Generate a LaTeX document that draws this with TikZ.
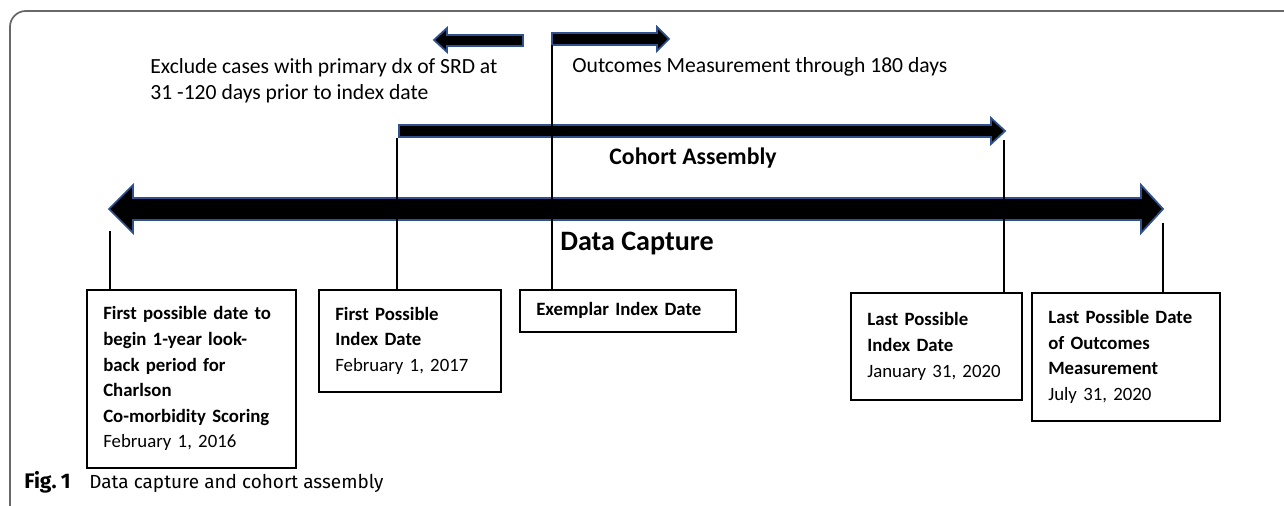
\documentclass[tikz,border=0pt]{standalone}
\usepackage{fontspec}
\setmainfont{Carlito}
\newfontfamily\capfont{Fira Sans}

\definecolor{arrowblue}{RGB}{47,82,143}
\definecolor{framegray}{RGB}{105,105,105}

\tikzset{
	bigarrow/.style = {fill = black, draw = arrowblue, line width = 1pt, line join = miter},
	guide/.style = {line width = 0.6pt},
	datebox/.style = {draw, line width = 0.9pt, anchor = north west, align = left, inner xsep = 0.33cm, inner ysep = 0pt, font = \fontsize{10.7}{14.6}\selectfont},
	note/.style = {inner sep = 0pt, align = left, font = \fontsize{12.3}{14.6}\selectfont}
}

\begin{document}
\begin{tikzpicture}[x = 0.02cm, y = -0.02cm]

	% Page (pixel grid of the reference)
	
	\useasboundingbox (0, 0) rectangle (1284, 506);
	\draw [framegray, line width = 1pt, rounded corners = 9pt] (10, 506) -- (10, 11) -- (1284, 11);
	
	% Arrows
	
	\draw [bigarrow] (109, 209) -- (133, 185) -- (133, 198) -- (1141, 198) -- (1141, 185) -- (1163, 209) -- (1141, 233) -- (1141, 220) -- (133, 220) -- (133, 233) -- cycle;
	\draw [bigarrow] (399, 125) -- (991, 125) -- (991, 118) -- (1005, 131) -- (991, 144) -- (991, 137) -- (399, 137) -- cycle;
	\draw [bigarrow] (434, 40) -- (447, 28) -- (447, 35) -- (523, 35) -- (523, 46) -- (447, 46) -- (447, 52) -- cycle;
	\draw [bigarrow] (552, 33) -- (657, 33) -- (657, 27) -- (669, 39) -- (657, 51) -- (657, 45) -- (552, 45) -- cycle;
	
	% Labels on arrows
	
	\node [note, anchor = north west] (exclude) at (150, 58) {Exclude cases with primary dx of SRD at\\31 -120 days prior to index date};
	\node [note, anchor = base west] (outcomes) at (572, 73) {Outcomes Measurement through 180 days};
	\node [anchor = base, inner sep = 0pt, font = \fontsize{13.5}{16}\selectfont\bfseries] (cohort) at (693, 165) {Cohort Assembly};
	\node [anchor = base, inner sep = 0pt, font = \fontsize{16}{19}\selectfont\bfseries] (capture) at (637, 251) {Data Capture};
	
	% Date boxes
	
	\node [datebox, text width = 3.52cm, minimum height = 3.56cm] (firstdate) at (86, 289) {\textbf{First possible date to}\\\textbf{begin 1-year look-}\\\textbf{back period for}\\\textbf{Charlson}\\\textbf{Co-morbidity Scoring}\\February 1, 2016};
	\node [datebox, text width = 2.98cm, minimum height = 2.04cm] (firstindex) at (318, 289) {\textbf{First Possible}\\\textbf{Index Date}\\February 1, 2017};
	\node [datebox, text width = 3.66cm, minimum height = 0.84cm] (exemplar) at (519, 289) {\textbf{Exemplar Index Date}};
	\node [datebox, text width = 2.76cm, minimum height = 2.14cm] (lastindex) at (850, 292) {\textbf{Last Possible}\\\textbf{Index Date}\\January 31, 2020};
	\node [datebox, text width = 3.1cm, minimum height = 2.56cm] (lastoutcome) at (1031, 292) {\textbf{Last Possible Date}\\\textbf{of Outcomes}\\\textbf{Measurement}\\July 31, 2020};
	
	% Guide lines from arrows to boxes
	
	\coordinate (capturestart) at (110, 231);
	\coordinate (cohortstart) at (397, 138);
	\coordinate (indexdate) at (552, 45);
	\coordinate (cohortend) at (1004, 140);
	\coordinate (captureend) at (1163, 223);
	
	\draw [guide] (capturestart) -- (capturestart |- firstdate.north);
	\draw [guide] (cohortstart) -- (cohortstart |- firstindex.north);
	\draw [guide] (indexdate) -- (indexdate |- exemplar.north);
	\draw [guide] (cohortend) -- (cohortend |- lastindex.north);
	\draw [guide] (captureend) -- (captureend |- lastoutcome.north);
	
	% Caption
	
	\node [anchor = base west, inner sep = 0pt, font = \capfont\fontsize{12}{14}\selectfont\bfseries] (figno) at (24, 488) {Fig.\hspace{0.2em}1};
	\node [anchor = base west, inner sep = 0pt, font = \capfont\fontsize{10.8}{13}\selectfont] (figcap) at (89, 488) {Data capture and cohort assembly};

\end{tikzpicture}
\end{document}
